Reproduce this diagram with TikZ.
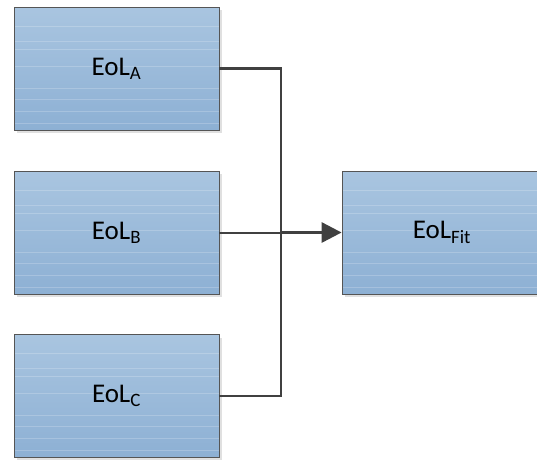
\documentclass[tikz,border=0pt]{standalone}
\usepackage{fontspec}
\setmainfont{Carlito}
\usetikzlibrary{arrows.meta,shadows}
\definecolor{boxtop}{HTML}{A9C5E0}
\definecolor{boxbot}{HTML}{8DB0D4}
\definecolor{boxline}{HTML}{555555}
\definecolor{wire}{HTML}{404040}
\begin{document}
\begin{tikzpicture}[x=1pt,y=-1pt,
  blk/.style={rectangle, draw=boxline, line width=0.8pt, top color=boxtop, bottom color=boxbot,
    minimum width=205pt, minimum height=123pt, inner sep=0pt, font=\fontsize{27}{32}\selectfont,
    drop shadow={shadow xshift=3pt, shadow yshift=-3pt, fill=black!12, opacity=1},
    path picture={
      \foreach \d in {19,34,42,59,81,92,104,116}
        \draw[white, opacity=0.2, line width=0.5pt]
          ([yshift=-\d pt]path picture bounding box.north west) -- ([yshift=-\d pt]path picture bounding box.north east);
    }},
  wireln/.style={draw=wire, line width=2.4pt}]
\useasboundingbox (0,0) rectangle (537,459);
\node[blk] (A) at (116.5,68.5) {\raisebox{-5pt}{EoL\textsubscript{A}}};
\node[blk] (B) at (116.5,232.5) {\raisebox{-5pt}{EoL\textsubscript{B}}};
\node[blk] (C) at (116.5,396) {\raisebox{-5pt}{EoL\textsubscript{C}}};
\node[blk, minimum width=200pt] (F) at (442,232.5) {\raisebox{-5pt}{EoL\textsubscript{Fit}}};
\coordinate (j) at (281,232.5);
\draw[wireln] (A.east) -| (j);
\draw[wireln] (C.east) -| (j);
\draw[draw=wire, line width=2pt] (B.east) -- (j);
\draw[draw=wire, line width=3pt, -{Triangle[length=20pt,width=20pt]}] (j) -- (F.west);
\end{tikzpicture}
\end{document}
